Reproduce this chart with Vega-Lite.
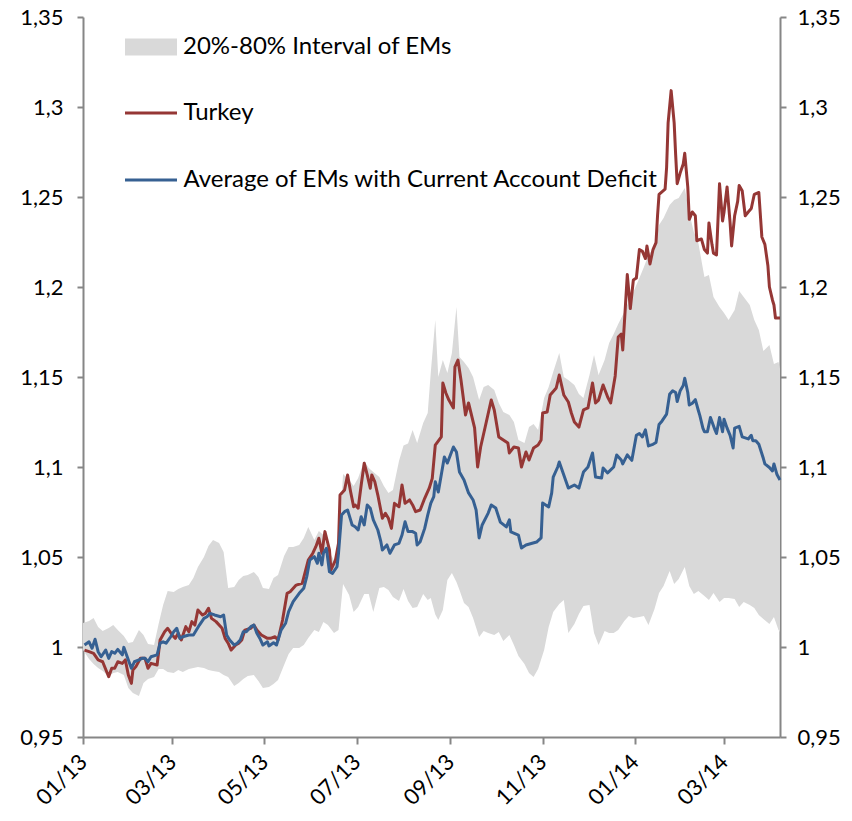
{
"$schema": "https://vega.github.io/schema/vega-lite/v6.json",
"width": 697, "height": 720,
"autosize": {"type": "none"},
"padding": {"left": 83, "top": 17, "right": 72, "bottom": 84},
"background": "white",
"config": {"view": {"stroke": null}, "font": "Lato",
 "axis": {"domainColor": "#868686", "tickColor": "#868686", "domainWidth": 2, "tickWidth": 2, "grid": false, "labelColor": "#000000", "labelFont": "Lato", "labelFontSize": 22, "title": null, "tickSize": 6}},
"datasets": {
"band": [
{"date":"2013/01/01","lo":0.9983,"hi":1.0133},{"date":"2013/01/05","lo":0.9933,"hi":1.0144},{"date":"2013/01/08","lo":0.9906,"hi":1.0161},{"date":"2013/01/11","lo":0.9883,"hi":1.0111},{"date":"2013/01/14","lo":0.9867,"hi":1.0089},{"date":"2013/01/18","lo":0.9839,"hi":1.0106},{"date":"2013/01/21","lo":0.9856,"hi":1.0122},{"date":"2013/01/24","lo":0.9861,"hi":1.0094},{"date":"2013/01/28","lo":0.9844,"hi":1.0061},{"date":"2013/01/31","lo":0.9772,"hi":1.0022},
{"date":"2013/02/03","lo":0.9744,"hi":1.0028},{"date":"2013/02/07","lo":0.9728,"hi":1.0094},{"date":"2013/02/10","lo":0.98,"hi":1.0067},{"date":"2013/02/13","lo":0.9822,"hi":1.0017},{"date":"2013/02/17","lo":0.9833,"hi":1.0011},{"date":"2013/02/20","lo":0.9878,"hi":1.0128},{"date":"2013/02/23","lo":0.9878,"hi":1.0233},{"date":"2013/02/26","lo":0.9861,"hi":1.0311},
{"date":"2013/03/02","lo":0.9856,"hi":1.0306},{"date":"2013/03/05","lo":0.9872,"hi":1.0322},{"date":"2013/03/08","lo":0.9861,"hi":1.0333},{"date":"2013/03/12","lo":0.9878,"hi":1.0344},{"date":"2013/03/15","lo":0.9883,"hi":1.0383},{"date":"2013/03/18","lo":0.9889,"hi":1.0444},{"date":"2013/03/22","lo":0.9883,"hi":1.05},{"date":"2013/03/25","lo":0.9872,"hi":1.0561},{"date":"2013/03/28","lo":0.9867,"hi":1.0594},
{"date":"2013/04/01","lo":0.9861,"hi":1.0578},{"date":"2013/04/04","lo":0.9844,"hi":1.0528},{"date":"2013/04/07","lo":0.9833,"hi":1.0328},{"date":"2013/04/11","lo":0.9783,"hi":1.0333},{"date":"2013/04/14","lo":0.98,"hi":1.0372},{"date":"2013/04/17","lo":0.9822,"hi":1.0394},{"date":"2013/04/20","lo":0.9839,"hi":1.04},{"date":"2013/04/24","lo":0.9844,"hi":1.0417},{"date":"2013/04/27","lo":0.9811,"hi":1.0389},{"date":"2013/04/30","lo":0.9772,"hi":1.0328},
{"date":"2013/05/04","lo":0.9778,"hi":1.0322},{"date":"2013/05/07","lo":0.9794,"hi":1.0383},{"date":"2013/05/10","lo":0.9817,"hi":1.04},{"date":"2013/05/14","lo":0.99,"hi":1.0506},{"date":"2013/05/17","lo":0.9961,"hi":1.0556},{"date":"2013/05/20","lo":0.9994,"hi":1.0556},{"date":"2013/05/24","lo":0.9994,"hi":1.0567},{"date":"2013/05/27","lo":1.0011,"hi":1.0606},{"date":"2013/05/30","lo":1.005,"hi":1.0667},
{"date":"2013/06/03","lo":1.0094,"hi":1.0594},{"date":"2013/06/06","lo":1.0083,"hi":1.0644},{"date":"2013/06/09","lo":1.0139,"hi":1.0622},{"date":"2013/06/12","lo":1.0122,"hi":1.0539},{"date":"2013/06/16","lo":1.0078,"hi":1.0483},{"date":"2013/06/19","lo":1.0094,"hi":1.0528},{"date":"2013/06/22","lo":1.035,"hi":1.0961},{"date":"2013/06/26","lo":1.0289,"hi":1.0928},{"date":"2013/06/29","lo":1.0194,"hi":1.0894},
{"date":"2013/07/02","lo":1.0222,"hi":1.0939},{"date":"2013/07/06","lo":1.0294,"hi":1.1033},{"date":"2013/07/09","lo":1.0294,"hi":1.0994},{"date":"2013/07/12","lo":1.0194,"hi":1.0972},{"date":"2013/07/16","lo":1.0328,"hi":1.0944},{"date":"2013/07/19","lo":1.0333,"hi":1.0894},{"date":"2013/07/22","lo":1.0317,"hi":1.0856},{"date":"2013/07/25","lo":1.0278,"hi":1.0872},{"date":"2013/07/29","lo":1.0256,"hi":1.1033},
{"date":"2013/08/01","lo":1.0322,"hi":1.112},{"date":"2013/08/04","lo":1.0256,"hi":1.113},{"date":"2013/08/07","lo":1.0217,"hi":1.1206},{"date":"2013/08/10","lo":1.0222,"hi":1.1133},{"date":"2013/08/14","lo":1.0294,"hi":1.1244},{"date":"2013/08/17","lo":1.0261,"hi":1.13},{"date":"2013/08/19","lo":1.0272,"hi":1.1522},{"date":"2013/08/22","lo":1.018,"hi":1.1817},{"date":"2013/08/24","lo":1.015,"hi":1.15},{"date":"2013/08/27","lo":1.0206,"hi":1.1594},{"date":"2013/08/30","lo":1.0372,"hi":1.1522},
{"date":"2013/09/02","lo":1.0411,"hi":1.1633},{"date":"2013/09/05","lo":1.0361,"hi":1.1889},{"date":"2013/09/07","lo":1.0317,"hi":1.1611},{"date":"2013/09/10","lo":1.0244,"hi":1.1583},{"date":"2013/09/13","lo":1.0222,"hi":1.155},{"date":"2013/09/16","lo":1.0161,"hi":1.15},{"date":"2013/09/20","lo":1.0056,"hi":1.1372},{"date":"2013/09/23","lo":1.0089,"hi":1.1444},{"date":"2013/09/26","lo":1.0078,"hi":1.1456},{"date":"2013/09/30","lo":1.0067,"hi":1.1428},
{"date":"2013/10/03","lo":1.0083,"hi":1.1356},{"date":"2013/10/06","lo":1.0033,"hi":1.1306},{"date":"2013/10/10","lo":1.0067,"hi":1.1289},{"date":"2013/10/13","lo":1.0011,"hi":1.125},{"date":"2013/10/16","lo":0.995,"hi":1.115},{"date":"2013/10/20","lo":0.9906,"hi":1.1133},{"date":"2013/10/23","lo":0.9856,"hi":1.1222},{"date":"2013/10/26","lo":0.9833,"hi":1.1239},{"date":"2013/10/29","lo":0.9878,"hi":1.1206},
{"date":"2013/11/02","lo":0.9983,"hi":1.1383},{"date":"2013/11/05","lo":1.0111,"hi":1.1444},{"date":"2013/11/08","lo":1.0194,"hi":1.1528},{"date":"2013/11/12","lo":1.0239,"hi":1.1633},{"date":"2013/11/15","lo":1.0261,"hi":1.15},{"date":"2013/11/18","lo":1.0078,"hi":1.1483},{"date":"2013/11/22","lo":1.0128,"hi":1.1456},{"date":"2013/11/25","lo":1.0183,"hi":1.1406},{"date":"2013/11/28","lo":1.0228,"hi":1.1383},
{"date":"2013/12/02","lo":1.0233,"hi":1.1511},{"date":"2013/12/05","lo":1.0078,"hi":1.1622},{"date":"2013/12/08","lo":1.0011,"hi":1.1511},{"date":"2013/12/12","lo":1.0089,"hi":1.1594},{"date":"2013/12/15","lo":1.0078,"hi":1.1689},{"date":"2013/12/18","lo":1.0078,"hi":1.1739},{"date":"2013/12/21","lo":1.0094,"hi":1.1794},{"date":"2013/12/25","lo":1.0144,"hi":1.1861},{"date":"2013/12/28","lo":1.0172,"hi":1.1922},{"date":"2013/12/31","lo":1.0161,"hi":1.1972},
{"date":"2014/01/04","lo":1.0167,"hi":1.205},{"date":"2014/01/07","lo":1.0172,"hi":1.2111},{"date":"2014/01/10","lo":1.0122,"hi":1.2178},{"date":"2014/01/14","lo":1.0211,"hi":1.2222},{"date":"2014/01/17","lo":1.03,"hi":1.2344},{"date":"2014/01/20","lo":1.0339,"hi":1.2383},{"date":"2014/01/24","lo":1.0422,"hi":1.2456},{"date":"2014/01/27","lo":1.035,"hi":1.2483},{"date":"2014/01/30","lo":1.0378,"hi":1.2494},
{"date":"2014/02/03","lo":1.0444,"hi":1.255},{"date":"2014/02/06","lo":1.0339,"hi":1.2411},{"date":"2014/02/09","lo":1.0294,"hi":1.2306},{"date":"2014/02/12","lo":1.0311,"hi":1.2244},{"date":"2014/02/16","lo":1.0283,"hi":1.2056},{"date":"2014/02/19","lo":1.0261,"hi":1.2067},{"date":"2014/02/22","lo":1.03,"hi":1.1944},{"date":"2014/02/26","lo":1.025,"hi":1.1889},
{"date":"2014/03/01","lo":1.0272,"hi":1.1856},{"date":"2014/03/04","lo":1.0272,"hi":1.1817},{"date":"2014/03/08","lo":1.0267,"hi":1.1872},{"date":"2014/03/11","lo":1.0222,"hi":1.1978},{"date":"2014/03/14","lo":1.025,"hi":1.1944},{"date":"2014/03/18","lo":1.0233,"hi":1.19},{"date":"2014/03/21","lo":1.0217,"hi":1.1817},{"date":"2014/03/24","lo":1.0178,"hi":1.1761},{"date":"2014/03/27","lo":1.0156,"hi":1.1644},{"date":"2014/03/31","lo":1.0128,"hi":1.1678},
{"date":"2014/04/03","lo":1.0167,"hi":1.1572},{"date":"2014/04/06","lo":1.0094,"hi":1.1583},{"date":"2014/04/07","lo":1.0083,"hi":1.1544}
],
"lines": [
{"date":"2013/01/02","series":"Turkey","value":0.9983},{"date":"2013/01/05","series":"Turkey","value":0.9974},{"date":"2013/01/08","series":"Turkey","value":0.9965},{"date":"2013/01/11","series":"Turkey","value":0.9928},{"date":"2013/01/14","series":"Turkey","value":0.9918},{"date":"2013/01/18","series":"Turkey","value":0.9835},{"date":"2013/01/20","series":"Turkey","value":0.9882},{"date":"2013/01/22","series":"Turkey","value":0.9882},{"date":"2013/01/24","series":"Turkey","value":0.9918},{"date":"2013/01/27","series":"Turkey","value":0.9909},{"date":"2013/01/29","series":"Turkey","value":0.9928},{"date":"2013/01/31","series":"Turkey","value":0.9844},
{"date":"2013/02/02","series":"Turkey","value":0.9798},{"date":"2013/02/03","series":"Turkey","value":0.9872},{"date":"2013/02/05","series":"Turkey","value":0.9891},{"date":"2013/02/08","series":"Turkey","value":0.9937},{"date":"2013/02/11","series":"Turkey","value":0.9937},{"date":"2013/02/13","series":"Turkey","value":0.9882},{"date":"2013/02/15","series":"Turkey","value":0.9909},{"date":"2013/02/19","series":"Turkey","value":0.99},{"date":"2013/02/21","series":"Turkey","value":1.0039},{"date":"2013/02/24","series":"Turkey","value":1.0085},{"date":"2013/02/26","series":"Turkey","value":1.0104},
{"date":"2013/03/01","series":"Turkey","value":1.0067},{"date":"2013/03/03","series":"Turkey","value":1.0048},{"date":"2013/03/05","series":"Turkey","value":1.0076},{"date":"2013/03/07","series":"Turkey","value":1.0039},{"date":"2013/03/10","series":"Turkey","value":1.0113},{"date":"2013/03/12","series":"Turkey","value":1.0085},{"date":"2013/03/14","series":"Turkey","value":1.0141},{"date":"2013/03/16","series":"Turkey","value":1.0122},{"date":"2013/03/18","series":"Turkey","value":1.0206},{"date":"2013/03/21","series":"Turkey","value":1.0178},{"date":"2013/03/23","series":"Turkey","value":1.0187},{"date":"2013/03/25","series":"Turkey","value":1.0215},{"date":"2013/03/27","series":"Turkey","value":1.0159},{"date":"2013/03/30","series":"Turkey","value":1.0141},
{"date":"2013/04/03","series":"Turkey","value":1.0104},{"date":"2013/04/05","series":"Turkey","value":1.0048},{"date":"2013/04/07","series":"Turkey","value":1.0021},{"date":"2013/04/09","series":"Turkey","value":0.9983},{"date":"2013/04/12","series":"Turkey","value":1.0011},{"date":"2013/04/14","series":"Turkey","value":1.0021},{"date":"2013/04/16","series":"Turkey","value":1.0039},{"date":"2013/04/18","series":"Turkey","value":1.0094},{"date":"2013/04/22","series":"Turkey","value":1.0104},{"date":"2013/04/24","series":"Turkey","value":1.0122},{"date":"2013/04/26","series":"Turkey","value":1.0094},{"date":"2013/04/29","series":"Turkey","value":1.0067},
{"date":"2013/05/03","series":"Turkey","value":1.0048},{"date":"2013/05/05","series":"Turkey","value":1.0048},{"date":"2013/05/08","series":"Turkey","value":1.0057},{"date":"2013/05/10","series":"Turkey","value":1.0039},{"date":"2013/05/13","series":"Turkey","value":1.015},{"date":"2013/05/16","series":"Turkey","value":1.0298},{"date":"2013/05/18","series":"Turkey","value":1.0307},{"date":"2013/05/22","series":"Turkey","value":1.0344},{"date":"2013/05/26","series":"Turkey","value":1.0354},{"date":"2013/05/30","series":"Turkey","value":1.0483},
{"date":"2013/06/02","series":"Turkey","value":1.0521},{"date":"2013/06/04","series":"Turkey","value":1.0557},{"date":"2013/06/06","series":"Turkey","value":1.0604},{"date":"2013/06/08","series":"Turkey","value":1.0521},{"date":"2013/06/10","series":"Turkey","value":1.0641},{"date":"2013/06/13","series":"Turkey","value":1.0539},{"date":"2013/06/14","series":"Turkey","value":1.0428},{"date":"2013/06/17","series":"Turkey","value":1.0483},{"date":"2013/06/19","series":"Turkey","value":1.0576},{"date":"2013/06/20","series":"Turkey","value":1.0844},{"date":"2013/06/23","series":"Turkey","value":1.0872},{"date":"2013/06/25","series":"Turkey","value":1.0956},{"date":"2013/06/27","series":"Turkey","value":1.0863},{"date":"2013/06/29","series":"Turkey","value":1.0779},{"date":"2013/06/30","series":"Turkey","value":1.0789},
{"date":"2013/07/02","series":"Turkey","value":1.0771},{"date":"2013/07/04","series":"Turkey","value":1.09},{"date":"2013/07/06","series":"Turkey","value":1.1021},{"date":"2013/07/08","series":"Turkey","value":1.0956},{"date":"2013/07/10","series":"Turkey","value":1.0882},{"date":"2013/07/11","series":"Turkey","value":1.0956},{"date":"2013/07/13","series":"Turkey","value":1.0918},{"date":"2013/07/15","series":"Turkey","value":1.0844},{"date":"2013/07/18","series":"Turkey","value":1.0715},{"date":"2013/07/20","series":"Turkey","value":1.0743},{"date":"2013/07/22","series":"Turkey","value":1.0715},{"date":"2013/07/24","series":"Turkey","value":1.0659},{"date":"2013/07/26","series":"Turkey","value":1.0798},{"date":"2013/07/29","series":"Turkey","value":1.0779},{"date":"2013/07/31","series":"Turkey","value":1.09},
{"date":"2013/08/02","series":"Turkey","value":1.0798},{"date":"2013/08/05","series":"Turkey","value":1.0817},{"date":"2013/08/07","series":"Turkey","value":1.0789},{"date":"2013/08/09","series":"Turkey","value":1.0752},{"date":"2013/08/12","series":"Turkey","value":1.0761},{"date":"2013/08/15","series":"Turkey","value":1.0826},{"date":"2013/08/18","series":"Turkey","value":1.0882},{"date":"2013/08/20","series":"Turkey","value":1.0937},{"date":"2013/08/22","series":"Turkey","value":1.1122},{"date":"2013/08/26","series":"Turkey","value":1.1168},{"date":"2013/08/27","series":"Turkey","value":1.1467},{"date":"2013/08/29","series":"Turkey","value":1.1411},{"date":"2013/08/31","series":"Turkey","value":1.1372},
{"date":"2013/09/03","series":"Turkey","value":1.1328},{"date":"2013/09/04","series":"Turkey","value":1.1556},{"date":"2013/09/06","series":"Turkey","value":1.1594},{"date":"2013/09/08","series":"Turkey","value":1.1483},{"date":"2013/09/11","series":"Turkey","value":1.1289},{"date":"2013/09/13","series":"Turkey","value":1.1356},{"date":"2013/09/17","series":"Turkey","value":1.1217},{"date":"2013/09/19","series":"Turkey","value":1.1},{"date":"2013/09/21","series":"Turkey","value":1.1111},{"date":"2013/09/24","series":"Turkey","value":1.1222},{"date":"2013/09/28","series":"Turkey","value":1.1372},{"date":"2013/09/30","series":"Turkey","value":1.1317},
{"date":"2013/10/03","series":"Turkey","value":1.1167},{"date":"2013/10/06","series":"Turkey","value":1.115},{"date":"2013/10/09","series":"Turkey","value":1.1133},{"date":"2013/10/10","series":"Turkey","value":1.1078},{"date":"2013/10/13","series":"Turkey","value":1.1111},{"date":"2013/10/16","series":"Turkey","value":1.1106},{"date":"2013/10/18","series":"Turkey","value":1.1},{"date":"2013/10/21","series":"Turkey","value":1.1083},{"date":"2013/10/23","series":"Turkey","value":1.1039},{"date":"2013/10/26","series":"Turkey","value":1.1106},{"date":"2013/10/29","series":"Turkey","value":1.1122},{"date":"2013/10/31","series":"Turkey","value":1.115},
{"date":"2013/11/01","series":"Turkey","value":1.13},{"date":"2013/11/04","series":"Turkey","value":1.1306},{"date":"2013/11/06","series":"Turkey","value":1.14},{"date":"2013/11/10","series":"Turkey","value":1.1439},{"date":"2013/11/12","series":"Turkey","value":1.1511},{"date":"2013/11/15","series":"Turkey","value":1.14},{"date":"2013/11/18","series":"Turkey","value":1.1361},{"date":"2013/11/20","series":"Turkey","value":1.13},{"date":"2013/11/22","series":"Turkey","value":1.125},{"date":"2013/11/25","series":"Turkey","value":1.1222},{"date":"2013/11/28","series":"Turkey","value":1.1317},
{"date":"2013/12/01","series":"Turkey","value":1.1328},{"date":"2013/12/04","series":"Turkey","value":1.1467},{"date":"2013/12/06","series":"Turkey","value":1.1356},{"date":"2013/12/08","series":"Turkey","value":1.1372},{"date":"2013/12/11","series":"Turkey","value":1.1456},{"date":"2013/12/14","series":"Turkey","value":1.1389},{"date":"2013/12/16","series":"Turkey","value":1.1356},{"date":"2013/12/19","series":"Turkey","value":1.1506},{"date":"2013/12/21","series":"Turkey","value":1.1722},{"date":"2013/12/23","series":"Turkey","value":1.1739},{"date":"2013/12/24","series":"Turkey","value":1.165},{"date":"2013/12/27","series":"Turkey","value":1.2069},{"date":"2013/12/29","series":"Turkey","value":1.188},{"date":"2013/12/31","series":"Turkey","value":1.2039},
{"date":"2014/01/02","series":"Turkey","value":1.205},{"date":"2014/01/04","series":"Turkey","value":1.2208},{"date":"2014/01/06","series":"Turkey","value":1.2198},{"date":"2014/01/08","series":"Turkey","value":1.2158},{"date":"2014/01/09","series":"Turkey","value":1.2228},{"date":"2014/01/11","series":"Turkey","value":1.2128},{"date":"2014/01/13","series":"Turkey","value":1.2208},{"date":"2014/01/15","series":"Turkey","value":1.2247},{"date":"2014/01/16","series":"Turkey","value":1.2396},{"date":"2014/01/17","series":"Turkey","value":1.2515},{"date":"2014/01/21","series":"Turkey","value":1.2544},{"date":"2014/01/22","series":"Turkey","value":1.2664},{"date":"2014/01/23","series":"Turkey","value":1.2912},{"date":"2014/01/25","series":"Turkey","value":1.3091},{"date":"2014/01/27","series":"Turkey","value":1.2912},{"date":"2014/01/28","series":"Turkey","value":1.2733},{"date":"2014/01/29","series":"Turkey","value":1.2574},{"date":"2014/01/31","series":"Turkey","value":1.2634},
{"date":"2014/02/02","series":"Turkey","value":1.2683},{"date":"2014/02/03","series":"Turkey","value":1.2743},{"date":"2014/02/05","series":"Turkey","value":1.2556},{"date":"2014/02/06","series":"Turkey","value":1.2376},{"date":"2014/02/08","series":"Turkey","value":1.2417},{"date":"2014/02/10","series":"Turkey","value":1.2396},{"date":"2014/02/11","series":"Turkey","value":1.2257},{"date":"2014/02/14","series":"Turkey","value":1.2267},{"date":"2014/02/16","series":"Turkey","value":1.2208},{"date":"2014/02/18","series":"Turkey","value":1.2188},{"date":"2014/02/19","series":"Turkey","value":1.2356},{"date":"2014/02/21","series":"Turkey","value":1.2237},{"date":"2014/02/22","series":"Turkey","value":1.2188},{"date":"2014/02/24","series":"Turkey","value":1.2178},{"date":"2014/02/26","series":"Turkey","value":1.2574},{"date":"2014/02/28","series":"Turkey","value":1.2367},
{"date":"2014/03/01","series":"Turkey","value":1.2417},{"date":"2014/03/03","series":"Turkey","value":1.2556},{"date":"2014/03/05","series":"Turkey","value":1.2356},{"date":"2014/03/06","series":"Turkey","value":1.2228},{"date":"2014/03/08","series":"Turkey","value":1.2396},{"date":"2014/03/10","series":"Turkey","value":1.2476},{"date":"2014/03/11","series":"Turkey","value":1.2564},{"date":"2014/03/13","series":"Turkey","value":1.2535},{"date":"2014/03/15","series":"Turkey","value":1.2396},{"date":"2014/03/17","series":"Turkey","value":1.2417},{"date":"2014/03/19","series":"Turkey","value":1.2436},{"date":"2014/03/21","series":"Turkey","value":1.2515},{"date":"2014/03/24","series":"Turkey","value":1.2525},{"date":"2014/03/26","series":"Turkey","value":1.2278},{"date":"2014/03/28","series":"Turkey","value":1.2237},{"date":"2014/03/30","series":"Turkey","value":1.2118},{"date":"2014/03/31","series":"Turkey","value":1.2},
{"date":"2014/04/02","series":"Turkey","value":1.1928},{"date":"2014/04/03","series":"Turkey","value":1.19},{"date":"2014/04/04","series":"Turkey","value":1.1828},{"date":"2014/04/07","series":"Turkey","value":1.1828},
{"date":"2013/01/02","series":"Average of EMs with Current Account Deficit","value":1.0011},{"date":"2013/01/05","series":"Average of EMs with Current Account Deficit","value":1.0029},{"date":"2013/01/07","series":"Average of EMs with Current Account Deficit","value":0.9993},{"date":"2013/01/09","series":"Average of EMs with Current Account Deficit","value":1.0043},{"date":"2013/01/11","series":"Average of EMs with Current Account Deficit","value":0.9974},{"date":"2013/01/13","series":"Average of EMs with Current Account Deficit","value":0.9946},{"date":"2013/01/16","series":"Average of EMs with Current Account Deficit","value":0.9983},{"date":"2013/01/18","series":"Average of EMs with Current Account Deficit","value":0.9937},{"date":"2013/01/20","series":"Average of EMs with Current Account Deficit","value":0.9974},{"date":"2013/01/22","series":"Average of EMs with Current Account Deficit","value":0.9965},{"date":"2013/01/24","series":"Average of EMs with Current Account Deficit","value":0.9987},{"date":"2013/01/27","series":"Average of EMs with Current Account Deficit","value":0.9956},{"date":"2013/01/28","series":"Average of EMs with Current Account Deficit","value":0.9998},{"date":"2013/01/31","series":"Average of EMs with Current Account Deficit","value":0.9928},
{"date":"2013/02/02","series":"Average of EMs with Current Account Deficit","value":0.9882},{"date":"2013/02/04","series":"Average of EMs with Current Account Deficit","value":0.9918},{"date":"2013/02/07","series":"Average of EMs with Current Account Deficit","value":0.9928},{"date":"2013/02/09","series":"Average of EMs with Current Account Deficit","value":0.9937},{"date":"2013/02/11","series":"Average of EMs with Current Account Deficit","value":0.9937},{"date":"2013/02/13","series":"Average of EMs with Current Account Deficit","value":0.9918},{"date":"2013/02/15","series":"Average of EMs with Current Account Deficit","value":0.9946},{"date":"2013/02/19","series":"Average of EMs with Current Account Deficit","value":0.9956},{"date":"2013/02/21","series":"Average of EMs with Current Account Deficit","value":1.0021},{"date":"2013/02/23","series":"Average of EMs with Current Account Deficit","value":1.0029},{"date":"2013/02/25","series":"Average of EMs with Current Account Deficit","value":1.0021},{"date":"2013/02/28","series":"Average of EMs with Current Account Deficit","value":1.0057},
{"date":"2013/03/02","series":"Average of EMs with Current Account Deficit","value":1.0085},{"date":"2013/03/04","series":"Average of EMs with Current Account Deficit","value":1.0104},{"date":"2013/03/06","series":"Average of EMs with Current Account Deficit","value":1.0048},{"date":"2013/03/08","series":"Average of EMs with Current Account Deficit","value":1.0057},{"date":"2013/03/12","series":"Average of EMs with Current Account Deficit","value":1.0067},{"date":"2013/03/15","series":"Average of EMs with Current Account Deficit","value":1.0067},{"date":"2013/03/17","series":"Average of EMs with Current Account Deficit","value":1.0094},{"date":"2013/03/19","series":"Average of EMs with Current Account Deficit","value":1.0122},{"date":"2013/03/22","series":"Average of EMs with Current Account Deficit","value":1.0159},{"date":"2013/03/24","series":"Average of EMs with Current Account Deficit","value":1.0168},{"date":"2013/03/26","series":"Average of EMs with Current Account Deficit","value":1.0187},{"date":"2013/03/29","series":"Average of EMs with Current Account Deficit","value":1.0178},
{"date":"2013/04/02","series":"Average of EMs with Current Account Deficit","value":1.0168},{"date":"2013/04/04","series":"Average of EMs with Current Account Deficit","value":1.0178},{"date":"2013/04/06","series":"Average of EMs with Current Account Deficit","value":1.0067},{"date":"2013/04/08","series":"Average of EMs with Current Account Deficit","value":1.0039},{"date":"2013/04/11","series":"Average of EMs with Current Account Deficit","value":1.0011},{"date":"2013/04/13","series":"Average of EMs with Current Account Deficit","value":1.0021},{"date":"2013/04/15","series":"Average of EMs with Current Account Deficit","value":1.0039},{"date":"2013/04/17","series":"Average of EMs with Current Account Deficit","value":1.0085},{"date":"2013/04/19","series":"Average of EMs with Current Account Deficit","value":1.0085},{"date":"2013/04/22","series":"Average of EMs with Current Account Deficit","value":1.0113},{"date":"2013/04/24","series":"Average of EMs with Current Account Deficit","value":1.0122},{"date":"2013/04/26","series":"Average of EMs with Current Account Deficit","value":1.0076},{"date":"2013/04/28","series":"Average of EMs with Current Account Deficit","value":1.0048},{"date":"2013/04/30","series":"Average of EMs with Current Account Deficit","value":1.0011},
{"date":"2013/05/03","series":"Average of EMs with Current Account Deficit","value":1.0029},{"date":"2013/05/04","series":"Average of EMs with Current Account Deficit","value":1.0006},{"date":"2013/05/07","series":"Average of EMs with Current Account Deficit","value":1.0024},{"date":"2013/05/09","series":"Average of EMs with Current Account Deficit","value":1.0011},{"date":"2013/05/12","series":"Average of EMs with Current Account Deficit","value":1.0094},{"date":"2013/05/15","series":"Average of EMs with Current Account Deficit","value":1.0132},{"date":"2013/05/17","series":"Average of EMs with Current Account Deficit","value":1.0196},{"date":"2013/05/20","series":"Average of EMs with Current Account Deficit","value":1.0252},{"date":"2013/05/24","series":"Average of EMs with Current Account Deficit","value":1.0298},{"date":"2013/05/27","series":"Average of EMs with Current Account Deficit","value":1.0326},{"date":"2013/05/29","series":"Average of EMs with Current Account Deficit","value":1.0391},{"date":"2013/05/31","series":"Average of EMs with Current Account Deficit","value":1.0483},
{"date":"2013/06/03","series":"Average of EMs with Current Account Deficit","value":1.0502},{"date":"2013/06/05","series":"Average of EMs with Current Account Deficit","value":1.0465},{"date":"2013/06/06","series":"Average of EMs with Current Account Deficit","value":1.0521},{"date":"2013/06/08","series":"Average of EMs with Current Account Deficit","value":1.0456},{"date":"2013/06/09","series":"Average of EMs with Current Account Deficit","value":1.0521},{"date":"2013/06/11","series":"Average of EMs with Current Account Deficit","value":1.0548},{"date":"2013/06/13","series":"Average of EMs with Current Account Deficit","value":1.0418},{"date":"2013/06/15","series":"Average of EMs with Current Account Deficit","value":1.0409},{"date":"2013/06/18","series":"Average of EMs with Current Account Deficit","value":1.0446},{"date":"2013/06/19","series":"Average of EMs with Current Account Deficit","value":1.0521},{"date":"2013/06/21","series":"Average of EMs with Current Account Deficit","value":1.0733},{"date":"2013/06/23","series":"Average of EMs with Current Account Deficit","value":1.0752},{"date":"2013/06/25","series":"Average of EMs with Current Account Deficit","value":1.0761},{"date":"2013/06/27","series":"Average of EMs with Current Account Deficit","value":1.0706},{"date":"2013/06/28","series":"Average of EMs with Current Account Deficit","value":1.0678},{"date":"2013/06/30","series":"Average of EMs with Current Account Deficit","value":1.0668},
{"date":"2013/07/02","series":"Average of EMs with Current Account Deficit","value":1.065},{"date":"2013/07/04","series":"Average of EMs with Current Account Deficit","value":1.0724},{"date":"2013/07/06","series":"Average of EMs with Current Account Deficit","value":1.0678},{"date":"2013/07/08","series":"Average of EMs with Current Account Deficit","value":1.0789},{"date":"2013/07/10","series":"Average of EMs with Current Account Deficit","value":1.0771},{"date":"2013/07/12","series":"Average of EMs with Current Account Deficit","value":1.0706},{"date":"2013/07/15","series":"Average of EMs with Current Account Deficit","value":1.065},{"date":"2013/07/17","series":"Average of EMs with Current Account Deficit","value":1.0585},{"date":"2013/07/18","series":"Average of EMs with Current Account Deficit","value":1.0539},{"date":"2013/07/21","series":"Average of EMs with Current Account Deficit","value":1.0567},{"date":"2013/07/23","series":"Average of EMs with Current Account Deficit","value":1.0521},{"date":"2013/07/26","series":"Average of EMs with Current Account Deficit","value":1.0567},{"date":"2013/07/29","series":"Average of EMs with Current Account Deficit","value":1.0576},{"date":"2013/07/31","series":"Average of EMs with Current Account Deficit","value":1.0622},
{"date":"2013/08/02","series":"Average of EMs with Current Account Deficit","value":1.0696},{"date":"2013/08/04","series":"Average of EMs with Current Account Deficit","value":1.0641},{"date":"2013/08/07","series":"Average of EMs with Current Account Deficit","value":1.0641},{"date":"2013/08/09","series":"Average of EMs with Current Account Deficit","value":1.0632},{"date":"2013/08/10","series":"Average of EMs with Current Account Deficit","value":1.0567},{"date":"2013/08/12","series":"Average of EMs with Current Account Deficit","value":1.0585},{"date":"2013/08/15","series":"Average of EMs with Current Account Deficit","value":1.0659},{"date":"2013/08/17","series":"Average of EMs with Current Account Deficit","value":1.0733},{"date":"2013/08/19","series":"Average of EMs with Current Account Deficit","value":1.0798},{"date":"2013/08/21","series":"Average of EMs with Current Account Deficit","value":1.0835},{"date":"2013/08/22","series":"Average of EMs with Current Account Deficit","value":1.0918},{"date":"2013/08/24","series":"Average of EMs with Current Account Deficit","value":1.0861},{"date":"2013/08/28","series":"Average of EMs with Current Account Deficit","value":1.1056},{"date":"2013/08/30","series":"Average of EMs with Current Account Deficit","value":1.1022},
{"date":"2013/09/03","series":"Average of EMs with Current Account Deficit","value":1.1111},{"date":"2013/09/05","series":"Average of EMs with Current Account Deficit","value":1.1083},{"date":"2013/09/07","series":"Average of EMs with Current Account Deficit","value":1.0972},{"date":"2013/09/10","series":"Average of EMs with Current Account Deficit","value":1.0928},{"date":"2013/09/13","series":"Average of EMs with Current Account Deficit","value":1.0856},{"date":"2013/09/16","series":"Average of EMs with Current Account Deficit","value":1.0817},{"date":"2013/09/18","series":"Average of EMs with Current Account Deficit","value":1.0761},{"date":"2013/09/20","series":"Average of EMs with Current Account Deficit","value":1.0606},{"date":"2013/09/22","series":"Average of EMs with Current Account Deficit","value":1.0678},{"date":"2013/09/26","series":"Average of EMs with Current Account Deficit","value":1.0744},{"date":"2013/09/28","series":"Average of EMs with Current Account Deficit","value":1.0789},
{"date":"2013/10/01","series":"Average of EMs with Current Account Deficit","value":1.0772},{"date":"2013/10/04","series":"Average of EMs with Current Account Deficit","value":1.0694},{"date":"2013/10/08","series":"Average of EMs with Current Account Deficit","value":1.0667},{"date":"2013/10/10","series":"Average of EMs with Current Account Deficit","value":1.0706},{"date":"2013/10/11","series":"Average of EMs with Current Account Deficit","value":1.0639},{"date":"2013/10/16","series":"Average of EMs with Current Account Deficit","value":1.0622},{"date":"2013/10/18","series":"Average of EMs with Current Account Deficit","value":1.055},{"date":"2013/10/21","series":"Average of EMs with Current Account Deficit","value":1.0567},{"date":"2013/10/28","series":"Average of EMs with Current Account Deficit","value":1.0583},{"date":"2013/10/31","series":"Average of EMs with Current Account Deficit","value":1.0606},
{"date":"2013/11/01","series":"Average of EMs with Current Account Deficit","value":1.08},{"date":"2013/11/05","series":"Average of EMs with Current Account Deficit","value":1.0778},{"date":"2013/11/07","series":"Average of EMs with Current Account Deficit","value":1.0856},{"date":"2013/11/08","series":"Average of EMs with Current Account Deficit","value":1.0944},{"date":"2013/11/11","series":"Average of EMs with Current Account Deficit","value":1.1},{"date":"2013/11/12","series":"Average of EMs with Current Account Deficit","value":1.1028},{"date":"2013/11/15","series":"Average of EMs with Current Account Deficit","value":1.0956},{"date":"2013/11/18","series":"Average of EMs with Current Account Deficit","value":1.0883},{"date":"2013/11/22","series":"Average of EMs with Current Account Deficit","value":1.09},{"date":"2013/11/25","series":"Average of EMs with Current Account Deficit","value":1.0883},{"date":"2013/11/28","series":"Average of EMs with Current Account Deficit","value":1.0972},
{"date":"2013/12/01","series":"Average of EMs with Current Account Deficit","value":1.1},{"date":"2013/12/04","series":"Average of EMs with Current Account Deficit","value":1.1078},{"date":"2013/12/06","series":"Average of EMs with Current Account Deficit","value":1.0944},{"date":"2013/12/10","series":"Average of EMs with Current Account Deficit","value":1.0939},{"date":"2013/12/11","series":"Average of EMs with Current Account Deficit","value":1.0994},{"date":"2013/12/14","series":"Average of EMs with Current Account Deficit","value":1.0967},{"date":"2013/12/18","series":"Average of EMs with Current Account Deficit","value":1.1},{"date":"2013/12/20","series":"Average of EMs with Current Account Deficit","value":1.1067},{"date":"2013/12/23","series":"Average of EMs with Current Account Deficit","value":1.1039},{"date":"2013/12/24","series":"Average of EMs with Current Account Deficit","value":1.1017},{"date":"2013/12/27","series":"Average of EMs with Current Account Deficit","value":1.1067},{"date":"2013/12/30","series":"Average of EMs with Current Account Deficit","value":1.1037},
{"date":"2014/01/02","series":"Average of EMs with Current Account Deficit","value":1.1176},{"date":"2014/01/04","series":"Average of EMs with Current Account Deficit","value":1.1186},{"date":"2014/01/06","series":"Average of EMs with Current Account Deficit","value":1.1167},{"date":"2014/01/08","series":"Average of EMs with Current Account Deficit","value":1.1206},{"date":"2014/01/10","series":"Average of EMs with Current Account Deficit","value":1.1117},{"date":"2014/01/13","series":"Average of EMs with Current Account Deficit","value":1.1126},{"date":"2014/01/15","series":"Average of EMs with Current Account Deficit","value":1.1136},{"date":"2014/01/17","series":"Average of EMs with Current Account Deficit","value":1.1236},{"date":"2014/01/19","series":"Average of EMs with Current Account Deficit","value":1.1256},{"date":"2014/01/22","series":"Average of EMs with Current Account Deficit","value":1.1294},{"date":"2014/01/24","series":"Average of EMs with Current Account Deficit","value":1.1404},{"date":"2014/01/26","series":"Average of EMs with Current Account Deficit","value":1.1424},{"date":"2014/01/28","series":"Average of EMs with Current Account Deficit","value":1.1414},{"date":"2014/01/29","series":"Average of EMs with Current Account Deficit","value":1.1364},{"date":"2014/01/31","series":"Average of EMs with Current Account Deficit","value":1.1424},
{"date":"2014/02/02","series":"Average of EMs with Current Account Deficit","value":1.1453},{"date":"2014/02/03","series":"Average of EMs with Current Account Deficit","value":1.1493},{"date":"2014/02/05","series":"Average of EMs with Current Account Deficit","value":1.1414},{"date":"2014/02/06","series":"Average of EMs with Current Account Deficit","value":1.1344},{"date":"2014/02/08","series":"Average of EMs with Current Account Deficit","value":1.1354},{"date":"2014/02/10","series":"Average of EMs with Current Account Deficit","value":1.1374},{"date":"2014/02/12","series":"Average of EMs with Current Account Deficit","value":1.1314},{"date":"2014/02/13","series":"Average of EMs with Current Account Deficit","value":1.1285},{"date":"2014/02/15","series":"Average of EMs with Current Account Deficit","value":1.1216},{"date":"2014/02/16","series":"Average of EMs with Current Account Deficit","value":1.1196},{"date":"2014/02/18","series":"Average of EMs with Current Account Deficit","value":1.1196},{"date":"2014/02/20","series":"Average of EMs with Current Account Deficit","value":1.1275},{"date":"2014/02/23","series":"Average of EMs with Current Account Deficit","value":1.1206},{"date":"2014/02/24","series":"Average of EMs with Current Account Deficit","value":1.1186},{"date":"2014/02/26","series":"Average of EMs with Current Account Deficit","value":1.1275},{"date":"2014/02/28","series":"Average of EMs with Current Account Deficit","value":1.1196},
{"date":"2014/03/01","series":"Average of EMs with Current Account Deficit","value":1.1265},{"date":"2014/03/03","series":"Average of EMs with Current Account Deficit","value":1.1216},{"date":"2014/03/05","series":"Average of EMs with Current Account Deficit","value":1.1176},{"date":"2014/03/07","series":"Average of EMs with Current Account Deficit","value":1.1106},{"date":"2014/03/08","series":"Average of EMs with Current Account Deficit","value":1.1216},{"date":"2014/03/11","series":"Average of EMs with Current Account Deficit","value":1.1226},{"date":"2014/03/13","series":"Average of EMs with Current Account Deficit","value":1.1167},{"date":"2014/03/17","series":"Average of EMs with Current Account Deficit","value":1.1156},{"date":"2014/03/19","series":"Average of EMs with Current Account Deficit","value":1.1176},{"date":"2014/03/20","series":"Average of EMs with Current Account Deficit","value":1.1146},{"date":"2014/03/22","series":"Average of EMs with Current Account Deficit","value":1.1146},{"date":"2014/03/24","series":"Average of EMs with Current Account Deficit","value":1.1126},{"date":"2014/03/27","series":"Average of EMs with Current Account Deficit","value":1.1047},{"date":"2014/03/28","series":"Average of EMs with Current Account Deficit","value":1.1017},{"date":"2014/03/31","series":"Average of EMs with Current Account Deficit","value":1.0997},
{"date":"2014/04/02","series":"Average of EMs with Current Account Deficit","value":1.0978},{"date":"2014/04/03","series":"Average of EMs with Current Account Deficit","value":1.1017},{"date":"2014/04/05","series":"Average of EMs with Current Account Deficit","value":1.0958},{"date":"2014/04/07","series":"Average of EMs with Current Account Deficit","value":1.0928}
]
},
"layer": [
 {"data": {"name": "band"},
  "mark": {"type": "area", "opacity": 1},
  "encoding": {
   "x": {"field": "date", "type": "temporal",
     "scale": {"domain": [{"year": 2013, "month": 1, "date": 1}, {"year": 2014, "month": 4, "date": 7}]},
     "axis": {"orient": "bottom", "values": [{"year": 2013, "month": 1, "date": 1}, {"year": 2013, "month": 3, "date": 1}, {"year": 2013, "month": 5, "date": 1}, {"year": 2013, "month": 7, "date": 1}, {"year": 2013, "month": 9, "date": 1}, {"year": 2013, "month": 11, "date": 1}, {"year": 2014, "month": 1, "date": 1}, {"year": 2014, "month": 3, "date": 1}],
       "format": "%m/%y", "labelAngle": -45, "labelAlign": "right", "labelBaseline": "middle", "labelPadding": 14, "tickSize": 7, "labelOverlap": false, "labelFlush": false, "labelBound": false}},
   "y": {"field": "lo", "type": "quantitative", "scale": {"domain": [0.95, 1.35], "zero": false, "nice": false},
     "axis": {"orient": "left", "values": [0.95, 1, 1.05, 1.1, 1.15, 1.2, 1.25, 1.3, 1.35], "labelExpr": "replace(format(datum.value, '.2~f'), '.', ',')", "labelPadding": 14, "labelFlush": false, "labelOverlap": false}},
   "y2": {"field": "hi"},
   "fill": {"datum": "20%-80% Interval of EMs", "type": "nominal", "scale": {"range": ["#d9d9d9"]},
     "legend": {"orient": "none", "legendX": 42, "legendY": 4, "title": null, "padding": 0, "symbolType": "M-1,-0.33H1V0.33H-1Z", "symbolSize": 2704, "symbolStrokeWidth": 0, "symbolOpacity": 1, "labelFontSize": 24, "labelFont": "Lato", "labelColor": "#000000", "labelOffset": 6, "labelLimit": 600}}
  }},
 {"data": {"name": "lines"},
  "mark": {"type": "line", "strokeWidth": 3, "strokeJoin": "round"},
  "encoding": {
   "x": {"field": "date", "type": "temporal"},
   "y": {"field": "value", "type": "quantitative", "scale": {"domain": [0.95, 1.35], "zero": false, "nice": false},
     "axis": {"orient": "right", "values": [0.95, 1, 1.05, 1.1, 1.15, 1.2, 1.25, 1.3, 1.35], "labelExpr": "replace(format(datum.value, '.2~f'), '.', ',')", "labelPadding": 11, "labelFlush": false, "labelOverlap": false}},
   "stroke": {"field": "series", "type": "nominal", "sort": null,
     "scale": {"domain": ["Turkey", "Average of EMs with Current Account Deficit"], "range": ["#953735", "#366092"]},
     "legend": {"orient": "none", "legendX": 40.5, "legendY": 68.5, "title": null, "padding": 0, "symbolType": "stroke", "symbolSize": 2704, "symbolStrokeWidth": 3, "labelFontSize": 24, "labelFont": "Lato", "labelColor": "#000000", "labelOffset": 5, "labelLimit": 600, "rowPadding": 27}}
  }}
],
"resolve": {"scale": {"y": "independent"}}
}
